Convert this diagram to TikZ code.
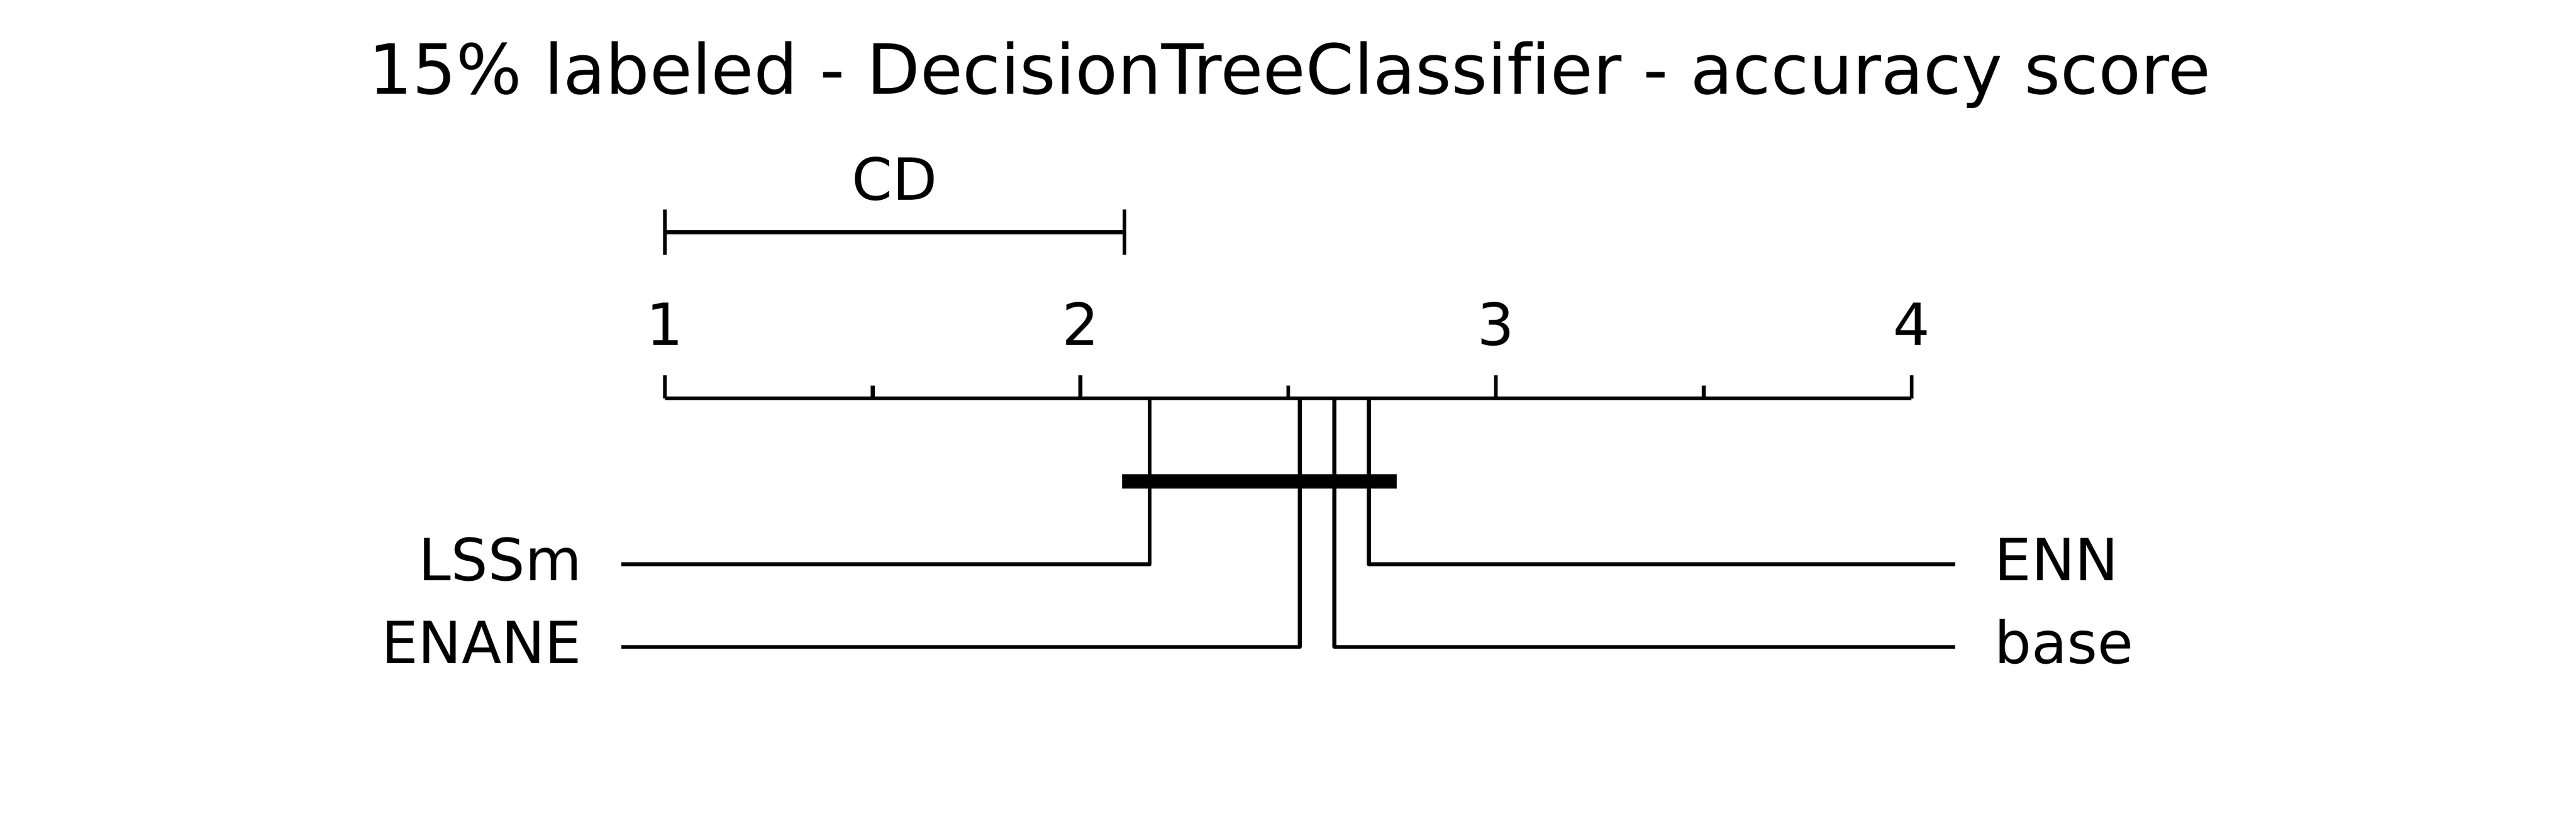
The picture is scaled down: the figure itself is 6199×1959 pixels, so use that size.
\documentclass[tikz,border=0pt]{standalone}
\usepackage{fontspec}
\setmainfont{DejaVu Sans}[Ligatures=NoCommon]
\begin{document}
\begin{tikzpicture}[x=0.1pt,y=-0.1pt,
  lbl/.style={inner sep=0pt, outer sep=0pt, font=\fontsize{14}{16}\selectfont},
  ttl/.style={inner sep=0pt, outer sep=0pt, font=\fontsize{16.65}{20}\selectfont},
  axisline/.style={line width=0.93pt, line cap=butt},
  rankline/.style={line width=0.93pt, line join=round, line cap=butt},
  cliq/.style={line width=3.4pt, line cap=butt}]
\useasboundingbox (0,0) rectangle (6199,1959);
% title
\node[ttl, anchor=base] (title) at (3103,226) {15\% labeled - DecisionTreeClassifier - accuracy score};
% axis
\coordinate (a1) at (1600,959);
\coordinate (a15) at (2100,959);
\coordinate (a2) at (2600,959);
\coordinate (a25) at (3100,959);
\coordinate (a3) at (3600,959);
\coordinate (a35) at (4100,959);
\coordinate (a4) at (4600,959);
\draw[axisline] (a1) -- (a4);
\foreach \t in {a1,a2,a3,a4} {\draw[axisline] (\t) -- ++(0,-55);}
\foreach \t in {a15,a25,a35} {\draw[axisline] (\t) -- ++(0,-30);}
\node[lbl, anchor=base] (t1) at (1600,831) {1};
\node[lbl, anchor=base] (t2) at (2600,831) {2};
\node[lbl, anchor=base] (t3) at (3600,831) {3};
\node[lbl, anchor=base] (t4) at (4600,831) {4};
% CD bar
\coordinate (cdl) at (1600,559);
\coordinate (cdr) at (2706,559);
\draw[axisline] (cdl) -- (cdr);
\draw[axisline] ([yshift=5.5pt]cdl) -- ([yshift=-5.5pt]cdl);
\draw[axisline] ([yshift=5.5pt]cdr) -- ([yshift=-5.5pt]cdr);
\node[lbl, anchor=base] (cd) at (2153,482) {CD};
% ranks
\coordinate (rLSSm) at (2766.7,959);
\coordinate (rENANE) at (3127.8,959);
\coordinate (rbase) at (3211.1,959);
\coordinate (rENN) at (3294.4,959);
\coordinate (eLSSm) at (1495,1359);
\coordinate (eENANE) at (1495,1558);
\coordinate (eENN) at (4705,1359);
\coordinate (ebase) at (4705,1558);
\draw[rankline] (rLSSm) |- (eLSSm);
\draw[rankline] (rENANE) |- (eENANE);
\draw[rankline] (rENN) |- (eENN);
\draw[rankline] (rbase) |- (ebase);
\node[lbl, anchor=base east] (nLSSm) at (1400,1398) {LSSm};
\node[lbl, anchor=base east] (nENANE) at (1400,1598) {ENANE};
\node[lbl, anchor=base west] (nENN) at (4800,1398) {ENN};
\node[lbl, anchor=base west] (nbase) at (4800,1598) {base};
% clique
\coordinate (c1) at (2700,1159);
\coordinate (c2) at (3361,1159);
\draw[cliq] (c1) -- (c2);
\end{tikzpicture}
\end{document}
